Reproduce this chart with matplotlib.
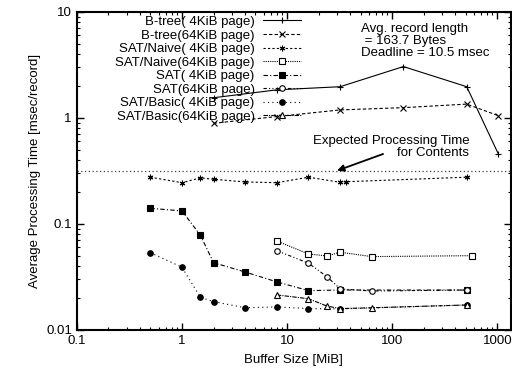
import matplotlib
matplotlib.use("Agg")
import matplotlib.pyplot as plt
from matplotlib.ticker import LogLocator, NullFormatter, FixedFormatter, FixedLocator

plt.rcParams['font.family'] = ['Liberation Sans', 'DejaVu Sans']
plt.rcParams['font.size'] = 9.5

# buffer sizes [MiB] and times [msec/record]
btree4_x = [2, 8, 32, 128, 512, 1024]
btree4_y = [1.55, 1.84, 1.97, 3.05, 1.97, 0.457]
btree64_x = [2, 8, 32, 128, 512, 1024]
btree64_y = [0.89, 1.03, 1.19, 1.25, 1.35, 1.05]
naive4_x = [0.5, 1, 1.5, 2, 4, 8, 16, 32, 36, 512]
naive4_y = [0.276, 0.245, 0.272, 0.264, 0.249, 0.245, 0.276, 0.247, 0.25, 0.276]
naive64_x = [8, 16, 24, 32, 64, 580]
naive64_y = [0.069, 0.0521, 0.0499, 0.0541, 0.0492, 0.0502]
sat4_x = [0.5, 1, 1.5, 2, 4, 8, 16, 32, 512]
sat4_y = [0.1406, 0.1327, 0.0782, 0.0431, 0.0352, 0.0284, 0.0235, 0.0238, 0.0238]
sat64_x = [8, 16, 24, 32, 64, 512]
sat64_y = [0.056, 0.0426, 0.0318, 0.0244, 0.0233, 0.0238]
basic4_x = [0.5, 1, 1.5, 2, 4, 8, 16, 32, 512]
basic4_y = [0.0536, 0.0391, 0.0203, 0.0185, 0.0162, 0.0165, 0.0159, 0.0158, 0.0172]
basic64_x = [8, 16, 24, 32, 64, 512]
basic64_y = [0.0214, 0.0197, 0.0168, 0.0159, 0.0162, 0.0172]
expected_time = 0.318

series = [
    ("B-tree( 4KiB page)", btree4_x, btree4_y, '-', '+', 'black'),
    ("B-tree(64KiB page)", btree64_x, btree64_y, (0, (3, 2)), 'x', 'black'),
    ("SAT/Naive( 4KiB page)", naive4_x, naive4_y, (0, (2, 2)), (6, 2, 0), 'black'),
    ("SAT/Naive(64KiB page)", naive64_x, naive64_y, (0, (1, 1)), 's', 'white'),
    ("SAT( 4KiB page)", sat4_x, sat4_y, (0, (4, 2, 1, 2)), 's', 'black'),
    ("SAT(64KiB page)", sat64_x, sat64_y, (0, (3, 2, 1, 2, 1, 2)), 'o', 'white'),
    ("SAT/Basic( 4KiB page)", basic4_x, basic4_y, (0, (1, 3)), 'o', 'black'),
    ("SAT/Basic(64KiB page)", basic64_x, basic64_y, (0, (4, 1, 1, 1)), '^', 'white'),
]

fig = plt.figure(figsize=(5.12, 3.72), dpi=100)
ax = fig.add_axes([0.150, 0.113, 0.848, 0.855])

for label, x, y, ls, mk, fc in series:
    ax.plot(x, y, linestyle=ls, marker=mk, color='black', lw=0.8,
            markersize=4, markerfacecolor=fc, markeredgewidth=0.8, label=label)

ax.axhline(expected_time, color='#444444', lw=0.9, linestyle=(0, (1, 2)))

ax.set_xscale('log')
ax.set_yscale('log')
ax.set_xlim(0.1, 1350)
ax.set_ylim(0.01, 10)

ax.xaxis.set_major_locator(FixedLocator([0.1, 1, 10, 100, 1000]))
ax.xaxis.set_major_formatter(FixedFormatter(['0.1', '1', '10', '100', '1000']))
ax.yaxis.set_major_locator(FixedLocator([0.01, 0.1, 1, 10]))
ax.yaxis.set_major_formatter(FixedFormatter(['0.01', '0.1', '1', '10']))
for a in (ax.xaxis, ax.yaxis):
    a.set_minor_locator(LogLocator(base=10, subs=range(2, 10)))
    a.set_minor_formatter(NullFormatter())
ax.tick_params(which='both', direction='in', top=True, right=True, labelsize=9.5)
ax.tick_params(which='major', length=5, width=1)
ax.tick_params(which='minor', length=2.5, width=0.8)
for s in ax.spines.values():
    s.set_linewidth(1.5)

ax.set_xlabel("Buffer Size [MiB]", fontsize=9.5, labelpad=5)
ax.set_ylabel("Average Processing Time [msec/record]", fontsize=9.5, labelpad=4)

leg = ax.legend(loc='upper right', bbox_to_anchor=(0.525, 1.0), frameon=False,
                fontsize=9.5, markerfirst=False, numpoints=1, handlelength=2.9,
                handletextpad=0.6, labelspacing=0.1, borderaxespad=0.0,
                borderpad=0.3)
for t in leg.get_texts():
    t.set_ha('right')
leg._legend_box.align = 'right'

ax.text(0.655, 0.965, "Avg. record length\n = 163.7 Bytes\nDeadline = 10.5 msec",
        transform=ax.transAxes, ha='left', va='top', fontsize=9.5, linespacing=1.0)

ax.text(541, 0.532, "Expected Processing Time\nfor Contents", ha='right',
        va='center', fontsize=9.5, linespacing=1.0)
ax.annotate("", xy=(29.9, expected_time), xytext=(82, 0.457),
            arrowprops=dict(arrowstyle='-|>', color='black', lw=1.3,
                            shrinkA=0, shrinkB=0, mutation_scale=10))

fig.savefig("out.png", dpi=100)
